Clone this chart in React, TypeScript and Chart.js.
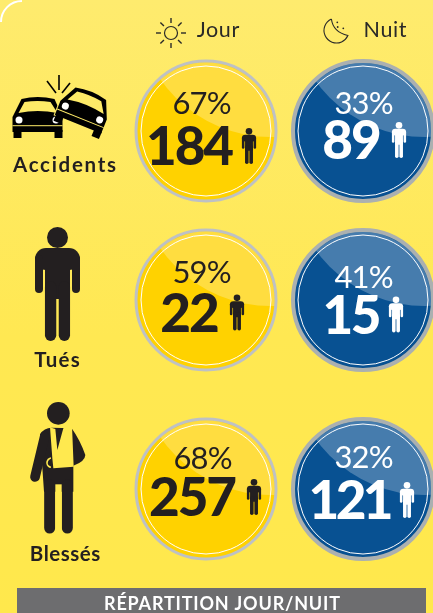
import React, { useEffect, useRef } from "react";
import { Chart, ScatterController, PointElement, CategoryScale } from "chart.js";

const rows = ["Accidents", "Tués", "Blessés"];
const periods = ["Jour", "Nuit"];
const jourCounts = [184, 22, 257];
const nuitCounts = [89, 15, 121];
const jourShares = [67, 59, 68];
const nuitShares = [33, 41, 32];
const footerTitle = "RÉPARTITION JOUR/NUIT";

// Layout of the labels inside each disc, relative to the disc's centre:
// [percent dx, dy, count dx, dy, figure dx, count letter spacing]
const discLabelLayout = [
  [[-4, -28, -16, 15, 43, -2], [-4, -28.5, -16, 12.5, 31, -2], [-3, -31, -13, 8, 48, -2]],
  [[1, -28, -11, 9, 36, -2], [1, -23.5, -11, 14.5, 33, -2.5], [1, -32, -12, 11, 44, -3.5]],
];
const INK = "#231F20";
const DISC = [
  { fill: "#FFD200", ring: "#BEC1C4", ringW: 3, text: INK },
  { fill: "#085192", ring: "#ABB0B0", ringW: 4, text: "#FFFFFF" },
];

class RowScale extends CategoryScale {
  static id = "rowCategory";
  static defaults = CategoryScale.defaults;
  getPixelForValue(value: any, index?: number) {
    const shift = (this.options as any).rowShift?.[value] ?? 0;
    return super.getPixelForValue(value, index) + shift;
  }
}

function drawText(ctx: any, text: string, x: number, y: number, font: string, color: string, spacing = 0) {
  ctx.save();
  ctx.font = font;
  ctx.fillStyle = color;
  ctx.textAlign = "center";
  ctx.textBaseline = "alphabetic";
  ctx.letterSpacing = spacing + "px";
  ctx.fillText(text, x + spacing / 2, y);
  ctx.restore();
}

function figure(ctx: any, cx: number, top: number, s: number, color: string) {
  ctx.save();
  ctx.translate(cx, top);
  ctx.scale(s, s);
  ctx.fillStyle = color;
  ctx.strokeStyle = color;
  ctx.lineCap = "round";
  ctx.beginPath();
  ctx.arc(0, 10.5, 10.5, 0, Math.PI * 2);
  ctx.fill();
  ctx.beginPath();
  ctx.roundRect(-22.5, 21, 45, 22, 12);
  ctx.fill();
  ctx.fillRect(-12.5, 30, 25, 42);
  ctx.lineWidth = 8;
  for (const d of [-18.5, 18.5]) {
    ctx.beginPath();
    ctx.moveTo(d, 32);
    ctx.lineTo(d, 62);
    ctx.stroke();
  }
  ctx.lineWidth = 11.3;
  for (const d of [-6.9, 6.9]) {
    ctx.beginPath();
    ctx.moveTo(d, 60);
    ctx.lineTo(d, 108.3);
    ctx.stroke();
  }
  ctx.restore();
}

function car(ctx: any, hx: number, hy: number, rot: number, bg: string, outline: boolean) {
  ctx.save();
  ctx.translate(hx, hy);
  ctx.rotate(rot);
  const shape = () => {
    ctx.beginPath();
    ctx.moveTo(-25, 3);
    ctx.lineTo(-25, -3);
    ctx.lineTo(-16, -21);
    ctx.quadraticCurveTo(0, -25, 17, -21);
    ctx.lineTo(25, -3);
    ctx.lineTo(25, 12);
    ctx.lineTo(-25, 12);
    ctx.closePath();
  };
  if (outline) {
    shape();
    ctx.strokeStyle = bg;
    ctx.lineWidth = 2;
    ctx.stroke();
  }
  ctx.fillStyle = "#000";
  shape();
  ctx.fill();
  ctx.fillRect(-24, 10, 8, 8);
  ctx.fillRect(17, 10, 8, 8);
  ctx.fillStyle = bg;
  ctx.beginPath();
  ctx.moveTo(-19, -7);
  ctx.lineTo(-13, -18);
  ctx.quadraticCurveTo(0, -20, 13, -18);
  ctx.lineTo(20, -7);
  ctx.quadraticCurveTo(0, -11, -19, -7);
  ctx.closePath();
  ctx.fill();
  ctx.fillRect(-25, 5.2, 50, 1);
  ctx.fillStyle = "#fff";
  for (const d of [-18.5, 18.5]) {
    ctx.beginPath();
    ctx.arc(d, 0, 3.5, 0, Math.PI * 2);
    ctx.fill();
  }
  ctx.restore();
}

function injured(ctx: any, bg: string) {
  ctx.save();
  ctx.translate(20, 395);
  ctx.scale(1 / 3, 1 / 3);
  ctx.fillStyle = INK;
  ctx.strokeStyle = INK;
  ctx.lineCap = "round";
  ctx.beginPath();
  ctx.arc(115, 55, 34, 0, Math.PI * 2);
  ctx.fill();
  ctx.beginPath();
  ctx.moveTo(60, 118);
  ctx.quadraticCurveTo(72, 98, 95, 98);
  ctx.lineTo(155, 100);
  ctx.quadraticCurveTo(180, 135, 196, 180);
  ctx.quadraticCurveTo(195, 200, 160, 212);
  ctx.lineTo(160, 290);
  ctx.lineTo(72, 290);
  ctx.closePath();
  ctx.fill();
  ctx.lineWidth = 29;
  ctx.beginPath();
  ctx.moveTo(74, 125);
  ctx.lineTo(45, 246);
  ctx.stroke();
  ctx.lineWidth = 33;
  ctx.beginPath();
  ctx.moveTo(89, 270);
  ctx.lineTo(89, 399);
  ctx.stroke();
  ctx.beginPath();
  ctx.moveTo(142, 270);
  ctx.lineTo(142, 399);
  ctx.stroke();
  ctx.fillStyle = bg;
  ctx.fillRect(106, 268, 19, 150);
  ctx.beginPath();
  ctx.moveTo(90, 97);
  ctx.quadraticCurveTo(100, 100, 106, 102);
  ctx.lineTo(112, 165);
  ctx.lineTo(130, 100);
  ctx.quadraticCurveTo(145, 92, 156, 92);
  ctx.lineTo(161, 215);
  ctx.lineTo(100, 220);
  ctx.lineTo(97, 190);
  ctx.closePath();
  ctx.fill();
  ctx.strokeStyle = bg;
  ctx.lineWidth = 5;
  ctx.beginPath();
  ctx.arc(95, 203, 14, Math.PI * 0.6, Math.PI * 1.4);
  ctx.stroke();
  ctx.restore();
}

const backdrop = {
  id: "backdrop",
  beforeDraw(chart: any) {
    const { ctx, width, height } = chart;
    const g = ctx.createLinearGradient(0, 0, 0, height);
    g.addColorStop(0, "#FEEB6E");
    g.addColorStop(0.55, "#FFE852");
    g.addColorStop(1, "#FFE84C");
    ctx.save();
    ctx.fillStyle = g;
    ctx.fillRect(0, 0, width, height);
    ctx.strokeStyle = "#FFFFFF";
    ctx.lineWidth = 2;
    ctx.beginPath();
    ctx.arc(22, 22, 21, Math.PI, Math.PI * 1.5);
    ctx.stroke();
    ctx.restore();
  },
};

const annotations = {
  id: "annotations",
  afterDatasetsDraw(chart: any) {
    const { ctx } = chart;
    const xs = chart.scales.x;
    const ys = chart.scales.y;
    chart.data.datasets.forEach((ds: any, s: number) => {
      const style = DISC[s];
      ds.data.forEach((pt: any, r: number) => {
        const cx = xs.getPixelForValue(s);
        const cy = ys.getPixelForValue(r);
        const R = 70;
        ctx.save();
        ctx.beginPath();
        ctx.arc(cx, cy, R - style.ringW / 2, 0, Math.PI * 2);
        ctx.clip();
        ctx.fillStyle = "rgba(255,255,255,0.25)";
        ctx.beginPath();
        ctx.arc(cx + 65 - s * 3, cy - 129, 135, 0, Math.PI * 2);
        ctx.fill();
        ctx.restore();
        ctx.strokeStyle = "#FFFFFF";
        ctx.lineWidth = 1;
        ctx.beginPath();
        ctx.arc(cx, cy, 65, 0, Math.PI * 2);
        ctx.stroke();
        const [pdx, pdy, ndx, ndy, fdx, nsp] = discLabelLayout[s][r];
        drawText(ctx, pt.share + "%", cx + pdx, cy + pdy + 11, "400 31px Lato", style.text, -0.8);
        drawText(ctx, String(pt.count), cx + ndx, cy + ndy + 19, "900 53px Lato", style.text, nsp);
        figure(ctx, cx + fdx, cy + ndy - 18, 36 / 114, style.text);
      });
    });

    // Column headers
    ctx.save();
    const inkSoft = "#2A2A28";
    drawText(ctx, periods[0], 218, 36.5, "400 21.5px Lato", inkSoft, 0.6);
    drawText(ctx, periods[1], 385, 36.5, "400 21.5px Lato", inkSoft, 0.6);
    ctx.strokeStyle = inkSoft;
    ctx.lineWidth = 1.2;
    ctx.beginPath();
    ctx.arc(171, 33, 6.5, 0, Math.PI * 2);
    ctx.stroke();
    ctx.lineWidth = 1.4;
    for (let i = 0; i < 8; i++) {
      const a = (i * Math.PI) / 4;
      ctx.beginPath();
      ctx.moveTo(171 + Math.cos(a) * 10, 33 + Math.sin(a) * 10);
      ctx.lineTo(171 + Math.cos(a) * 15, 33 + Math.sin(a) * 15);
      ctx.stroke();
    }
    ctx.lineWidth = 1.1;
    ctx.beginPath();
    ctx.arc(336.5, 30.5, 12.5, (-114 * Math.PI) / 180, (24 * Math.PI) / 180, true);
    ctx.quadraticCurveTo(333, 32, 331.4, 19);
    ctx.stroke();
    ctx.fillStyle = inkSoft;
    for (const [x, y] of [[337.3, 22.3], [337.7, 27], [343.3, 28.3]]) {
      ctx.beginPath();
      ctx.arc(x, y, 0.9, 0, Math.PI * 2);
      ctx.fill();
    }
    ctx.restore();

    // Row labels and icons
    const bg = "#FEEB68";
    car(ctx, 37.5, 120, 0, bg, false);
    car(ctx, 82.5, 113, (22 * Math.PI) / 180, bg, true);
    ctx.save();
    ctx.strokeStyle = "#000";
    ctx.lineWidth = 1.6;
    for (const [a, b, c, d] of [[47, 81, 56, 93], [59, 75, 59, 90], [70, 83, 62, 93]]) {
      ctx.beginPath();
      ctx.moveTo(a, b);
      ctx.lineTo(c, d);
      ctx.stroke();
    }
    ctx.restore();
    figure(ctx, 57.5, 227, 1, INK);
    injured(ctx, "#FFE94F");
    const rowX = [64.5, 57, 65];
    const rowY = [171.5, 367, 561];
    const rowSpacing = [1.7, 1.2, 0.5];
    rows.forEach((name, i) => drawText(ctx, name, rowX[i], rowY[i], "700 20.5px Lato", INK, rowSpacing[i]));

    // Footer band
    ctx.save();
    ctx.fillStyle = "#6D6D6F";
    ctx.fillRect(17, 588, 409, 25);
    ctx.restore();
    drawText(ctx, footerTitle, 222, 610, "700 18px Lato", "#FFFFFF", 0.8);
  },
};

Chart.register(ScatterController, PointElement, CategoryScale, RowScale);

export default function App() {
  const ref = useRef<HTMLCanvasElement>(null);
  useEffect(() => {
    const build = (counts: number[], shares: number[], period: string) =>
      rows.map((row, i) => ({ x: period, y: row, count: counts[i], share: shares[i] }));
    const chart = new Chart(ref.current!, {
      type: "scatter",
      data: {
        datasets: [
          {
            label: periods[0],
            data: build(jourCounts, jourShares, periods[0]),
            pointRadius: 70,
            pointBackgroundColor: DISC[0].fill,
            pointBorderColor: DISC[0].ring,
            pointBorderWidth: DISC[0].ringW,
            clip: false,
          },
          {
            label: periods[1],
            data: build(nuitCounts, nuitShares, periods[1]),
            pointRadius: 70,
            pointBackgroundColor: DISC[1].fill,
            pointBorderColor: DISC[1].ring,
            pointBorderWidth: DISC[1].ringW,
            clip: false,
          },
        ] as any,
      },
      options: {
        animation: false,
        responsive: false,
        devicePixelRatio: 1,
        events: [],
        layout: { autoPadding: false, padding: { left: 206, right: 70, top: 131, bottom: 124 } },
        plugins: { legend: { display: false }, title: { display: false }, tooltip: { enabled: false } },
        scales: {
          x: { type: "category", labels: periods, offset: false, display: false },
          y: { type: "rowCategory", labels: rows, offset: false, display: false, rowShift: [0, -10, 0] } as any,
        },
      },
      plugins: [backdrop, annotations],
    });
    return () => chart.destroy();
  }, []);
  return (
    <div style={{ position: "fixed", left: 0, top: 0, width: 433, height: 613, overflow: "hidden" }}>
      <canvas ref={ref} width={433} height={613} style={{ display: "block" }} />
    </div>
  );
}
